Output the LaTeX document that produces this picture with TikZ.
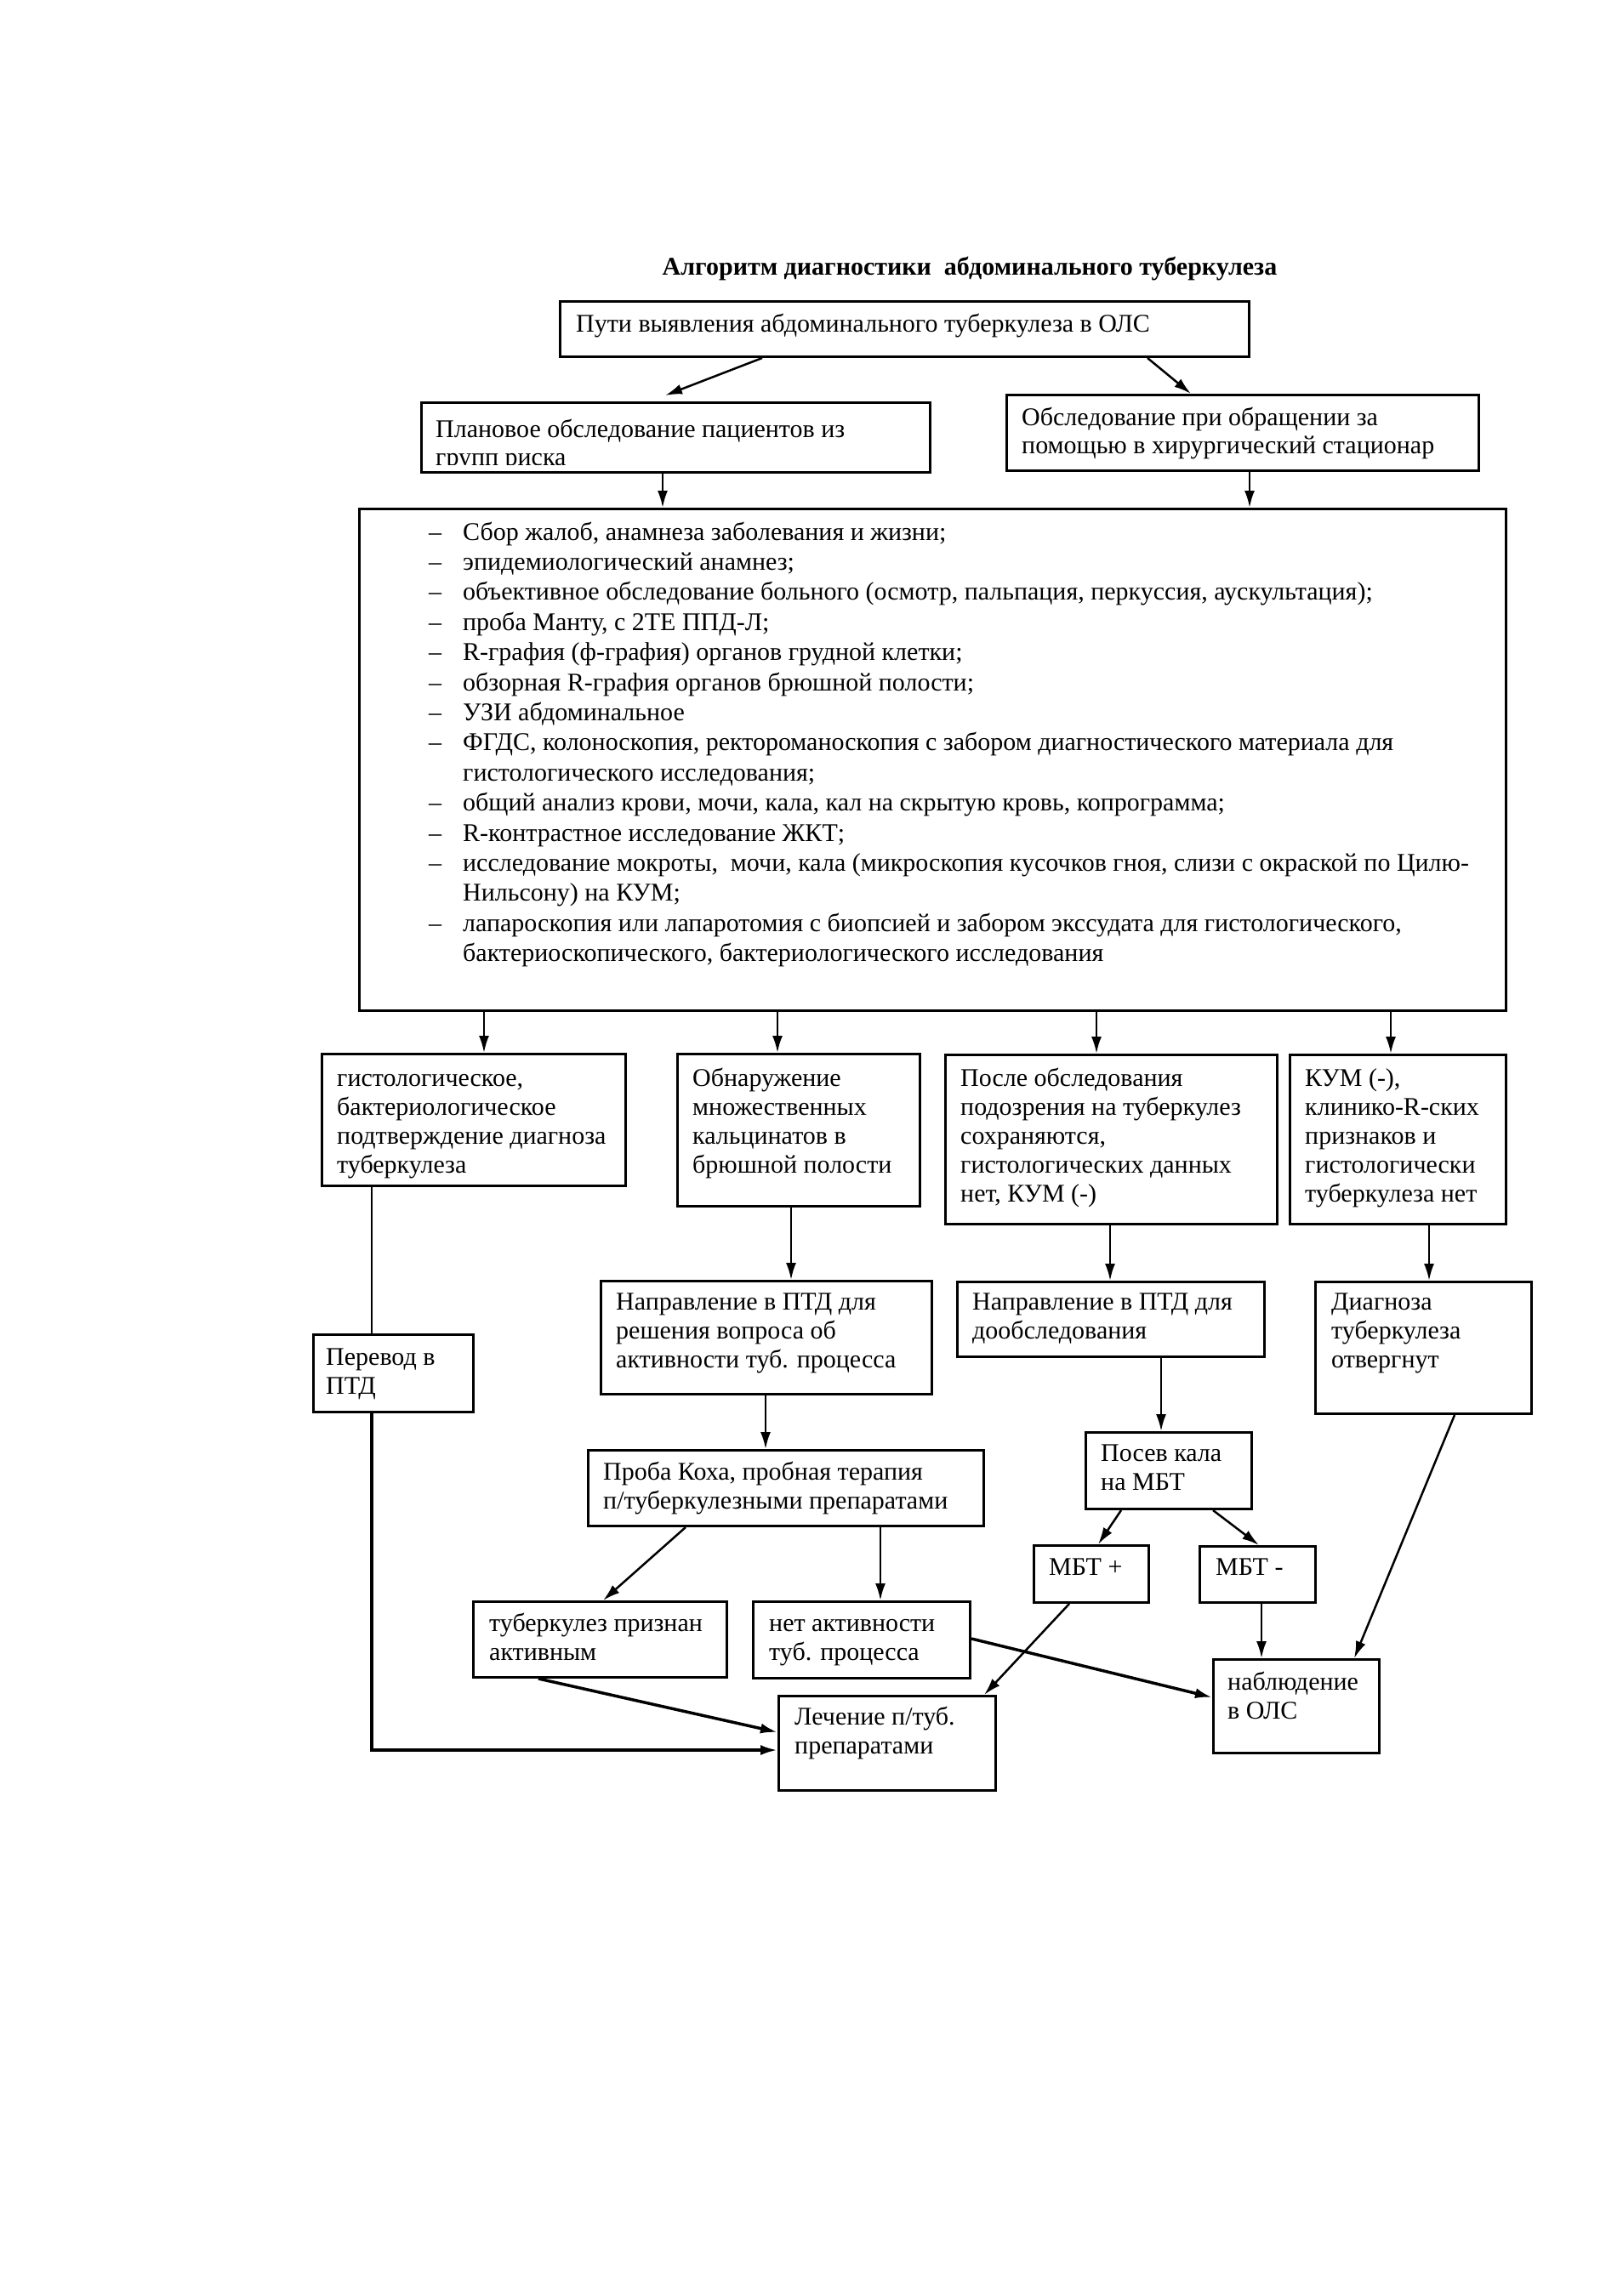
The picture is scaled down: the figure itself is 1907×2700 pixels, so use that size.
\documentclass[tikz,border=0pt]{standalone}
\usepackage{fontspec}
\setmainfont{Liberation Serif}
\usetikzlibrary{arrows.meta,calc}
\newcommand\lstdash{\makebox[40pt][l]{–}}
\newcommand\lstcont{\hspace*{40pt}}
\begin{document}
\begin{tikzpicture}[x=1pt,y=-1pt,
  box/.style={draw=black, line width=3pt, rectangle, inner sep=0pt, anchor=north west},
  txt/.style={anchor=base west, align=left, inner sep=0pt, font=\fontsize{30}{34}\selectfont},
  arr/.style={line width=2.5pt, -{Latex[length=20pt,width=12pt]}},
  arrthick/.style={line width=3.5pt, -{Latex[length=20pt,width=12pt]}},
  plain/.style={line width=2.5pt}]
\fill[white] (0,0) rectangle (1907,2700);
\useasboundingbox (0,0) rectangle (1907,2700);

\node[anchor=base, inner sep=0pt, font=\fontsize{30}{34}\selectfont\bfseries] (title) at (1140,323) {Алгоритм диагностики\ \ абдоминального туберкулеза};

% boxes
\node[box, minimum width=810, minimum height=65] (T) at (657,353) {};
\node[box, minimum width=598, minimum height=82] (P1) at (494,472) {};
\node[box, minimum width=555, minimum height=89] (R1) at (1182,463) {};
\node[box, minimum width=1348, minimum height=590] (BIG) at (421,597) {};
\node[box, minimum width=357, minimum height=155] (A) at (377,1238) {};
\node[box, minimum width=285, minimum height=179] (B) at (795,1238) {};
\node[box, minimum width=390, minimum height=199] (C) at (1110,1239) {};
\node[box, minimum width=254, minimum height=199] (D) at (1515,1239) {};
\node[box, minimum width=188, minimum height=91] (E) at (367,1568) {};
\node[box, minimum width=389, minimum height=133] (F) at (705,1505) {};
\node[box, minimum width=361, minimum height=88] (G) at (1124,1506) {};
\node[box, minimum width=254, minimum height=155] (H) at (1545,1506) {};
\node[box, minimum width=465, minimum height=89] (I) at (690,1704) {};
\node[box, minimum width=195, minimum height=90] (J) at (1275,1683) {};
\node[box, minimum width=135, minimum height=67] (K) at (1214,1816) {};
\node[box, minimum width=136, minimum height=66] (L) at (1409,1817) {};
\node[box, minimum width=298, minimum height=89] (M) at (555,1882) {};
\node[box, minimum width=255, minimum height=90] (N) at (884,1882) {};
\node[box, minimum width=195, minimum height=110] (O) at (1425,1950) {};
\node[box, minimum width=255, minimum height=111] (P) at (914,1993) {};

% texts (base anchor = baseline of the last line)
\node[txt] (Tt) at (677,390) {Пути выявления абдоминального туберкулеза в ОЛС};
\begin{scope}
\clip (494,472) rectangle (1092,546);
\node[txt, font=\fontsize{30}{33}\selectfont] (P1t) at (512,547) {Плановое обследование пациентов из\\групп риска};
\end{scope}
\node[txt, font=\fontsize{30}{33}\selectfont] (R1t) at (1201,533) {Обследование при обращении за\\помощью в хирургический стационар};
\node[txt, font=\fontsize{30}{35.4}\selectfont] (BIGt) at (504,1130.6) {%
\lstdash Сбор жалоб, анамнеза заболевания и жизни;\\
\lstdash эпидемиологический анамнез;\\
\lstdash объективное обследование больного (осмотр, пальпация, перкуссия, аускультация);\\
\lstdash проба Манту, с 2ТЕ ППД-Л;\\
\lstdash R-графия (ф-графия) органов грудной клетки;\\
\lstdash обзорная R-графия органов брюшной полости;\\
\lstdash УЗИ абдоминальное\\
\lstdash ФГДС, колоноскопия, ректороманоскопия с забором диагностического материала для\\
\lstcont гистологического исследования;\\
\lstdash общий анализ крови, мочи, кала, кал на скрытую кровь, копрограмма;\\
\lstdash R-контрастное исследование ЖКТ;\\
\lstdash исследование мокроты,\ \ мочи, кала (микроскопия кусочков гноя, слизи с окраской по Цилю-\\
\lstcont Нильсону) на КУМ;\\
\lstdash лапароскопия или лапаротомия с биопсией и забором экссудата для гистологического,\\
\lstcont бактериоскопического, бактериологического исследования};
\node[txt] (At) at (396,1379) {гистологическое,\\бактериологическое\\подтверждение диагноза\\туберкулеза};
\node[txt] (Bt) at (814,1379) {Обнаружение\\множественных\\кальцинатов в\\брюшной полости};
\node[txt] (Ct) at (1129,1413) {После обследования\\подозрения на туберкулез\\сохраняются,\\гистологических данных\\нет, КУМ (-)};
\node[txt] (Dt) at (1534,1413) {КУМ (-),\\клинико-R-ских\\признаков и\\гистологически\\туберкулеза нет};
\node[txt] (Et) at (383,1639) {Перевод в\\ПТД};
\node[txt] (Ft) at (724,1608) {Направление в ПТД для\\решения вопроса об\\активности туб. процесса};
\node[txt] (Gt) at (1143,1574) {Направление в ПТД для\\дообследования};
\node[txt] (Ht) at (1565,1608) {Диагноза\\туберкулеза\\отвергнут};
\node[txt] (It) at (709,1774) {Проба Коха, пробная терапия\\п/туберкулезными препаратами};
\node[txt] (Jt) at (1294,1752) {Посев кала\\на МБТ};
\node[txt] (Kt) at (1233,1852) {МБТ +};
\node[txt] (Lt) at (1429,1852) {МБТ -};
\node[txt] (Mt) at (575,1952) {туберкулез признан\\активным};
\node[txt] (Nt) at (904,1952) {нет активности\\туб. процесса};
\node[txt] (Ot) at (1443,2021) {наблюдение\\в ОЛС};
\node[txt] (Pt) at (934,2062) {Лечение п/туб.\\препаратами};

% connectors
\draw[arr] ([xshift=239]T.south west) -- ([xshift=288,yshift=7]P1.north west);
\draw[arr] ([xshift=692]T.south west) -- ([xshift=218]R1.north west);
\draw[arr] ([xshift=285]P1.south west) -- ([xshift=358]BIG.north west);
\draw[arr] ([xshift=287]R1.south west) -- ([xshift=1048]BIG.north west);
\draw[arr] ([xshift=148]BIG.south west) -- ([xshift=192]A.north west);
\draw[arr] ([xshift=493]BIG.south west) -- ([xshift=119]B.north west);
\draw[arr] ([xshift=868]BIG.south west) -- ([xshift=179]C.north west);
\draw[arr] ([xshift=1214]BIG.south west) -- ([xshift=120]D.north west);
\draw[plain] ([xshift=60]A.south west) -- ([xshift=70]E.north west);
\draw[arrthick] ([xshift=70]E.south west) |- ([yshift=-65]P.north west);
\draw[arr] ([xshift=135]B.south west) -- ([xshift=225]F.north west);
\draw[arr] ([xshift=195]C.south west) -- ([xshift=181]G.north west);
\draw[arr] ([xshift=165]D.south west) -- ([xshift=135]H.north west);
\draw[arr] ([xshift=195]F.south west) -- ([xshift=210]I.north west);
\draw[arr] ([xshift=241]G.south west) -- ([xshift=90]J.north west);
\draw[arr] ([xshift=43]J.south west) -- ([xshift=77]K.north west);
\draw[arr] ([xshift=151]J.south west) -- ([xshift=71]L.north west);
\draw[arr] ([xshift=116]I.south west) -- ([xshift=154]M.north west);
\draw[arr] ([xshift=345]I.south west) -- ([xshift=151]N.north west);
\draw[arr] ([xshift=165]H.south west) -- ([xshift=167]O.north west);
\draw[arr] ([xshift=74]L.south west) -- ([xshift=58]O.north west);
\draw[arrthick] ([yshift=-45]N.north east) -- ([yshift=-46]O.north west);
\draw[arr] ([xshift=43]K.south west) -- ([xshift=243]P.north west);
\draw[arrthick] ([xshift=78]M.south west) -- ([yshift=-44]P.north west);
\end{tikzpicture}
\end{document}
